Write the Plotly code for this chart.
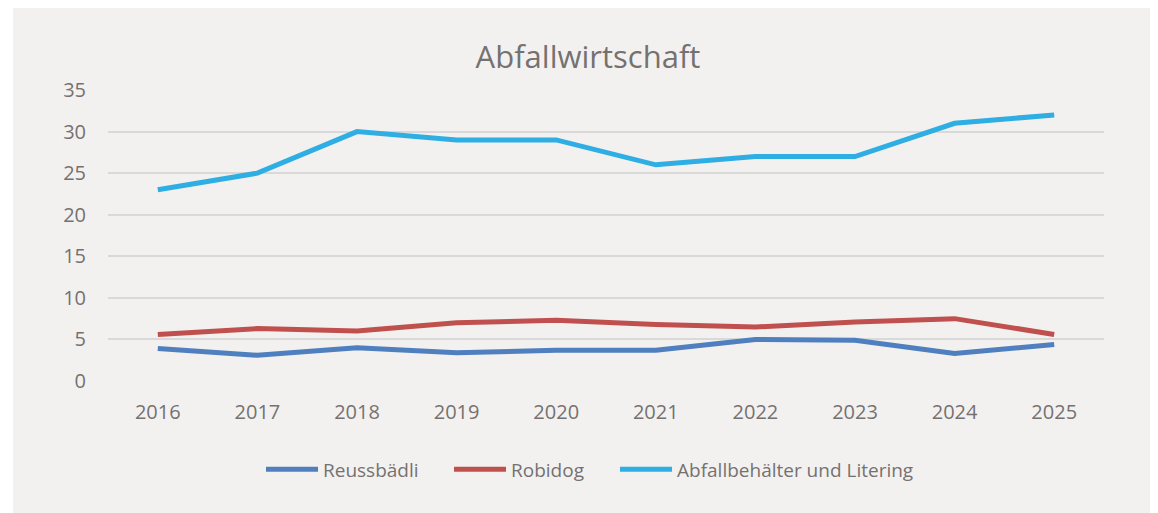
import plotly.graph_objects as go

years = ["2016", "2017", "2018", "2019", "2020", "2021", "2022", "2023", "2024", "2025"]
reussbaedli = [3.9, 3.1, 4.0, 3.4, 3.7, 3.7, 5.0, 4.9, 3.3, 4.4]
robidog = [5.6, 6.3, 6.0, 7.0, 7.3, 6.8, 6.5, 7.1, 7.5, 5.6]
abfall = [23, 25, 30, 29, 29, 26, 27, 27, 31, 32]
series_names = ["Reussbädli", "Robidog", "Abfallbehälter und Litering"]
y_ticks = [0, 5, 10, 15, 20, 25, 30, 35]

colors = ["#4f7fbf", "#c0504d", "#2eaee3"]
BG = "#f2f1f0"
TXT = "#757171"
FONT = "Open Sans"
W, H = 1158, 513
OFF = 8  # page body margin
PL, PR, PT, PB = 108, 1104, 90.3, 380.7  # plot area in window px
PW, PH = PR - PL, PB - PT

legend_keys = ["legend", "legend2", "legend3"]
legend_px = [267, 455, 621]  # window x of legend line samples

fig = go.Figure()
for name, vals, col, lg in zip(series_names, [reussbaedli, robidog, abfall], colors, legend_keys):
    fig.add_trace(go.Scatter(x=years, y=vals, name=name, mode="lines", legend=lg,
                             line=dict(color=col, width=5)))

legend_common = dict(orientation="h", yanchor="middle", y=(PB - 469) / PH, xanchor="left",
                     font=dict(size=19, color=TXT, family=FONT),
                     bgcolor="rgba(0,0,0,0)", itemwidth=52, borderwidth=0)
legends = {}
for lg, px in zip(legend_keys, legend_px):
    legends[lg] = dict(legend_common, x=(px - 6 - PL) / PW)

fig.update_layout(
    width=W, height=H,
    paper_bgcolor="white",
    plot_bgcolor="rgba(0,0,0,0)",
    margin=dict(l=PL - OFF, r=W - (PR - OFF), t=PT - OFF, b=H - (PB - OFF), autoexpand=False),
    font=dict(family=FONT, color=TXT),
    title=dict(text="Abfallwirtschaft", x=(588 - OFF) / W, xanchor="center",
               y=1 - (57 - OFF) / H, yanchor="middle",
               font=dict(size=31, color=TXT, family=FONT)),
    showlegend=True,
    shapes=[dict(type="rect", xref="paper", yref="paper",
                 x0=(13 - PL) / PW, x1=(1170 - PL) / PW,
                 y0=(PB - 514) / PH, y1=(PB - 7) / PH,
                 fillcolor=BG, line=dict(width=0), layer="below")],
    **legends,
)
fig.update_xaxes(range=[-0.5, 9.5], showgrid=False, zeroline=False, showline=False, ticks="",
                 tickfont=dict(size=20, color=TXT), ticklabelstandoff=17, tickangle=0)
fig.update_yaxes(range=[0, 35], tickvals=y_ticks, showgrid=True, gridcolor="#d9d9d9",
                 gridwidth=1.5, zeroline=False, showline=False, ticks="",
                 tickfont=dict(size=20, color=TXT), ticklabelstandoff=21)

fig.write_html("out.html")
